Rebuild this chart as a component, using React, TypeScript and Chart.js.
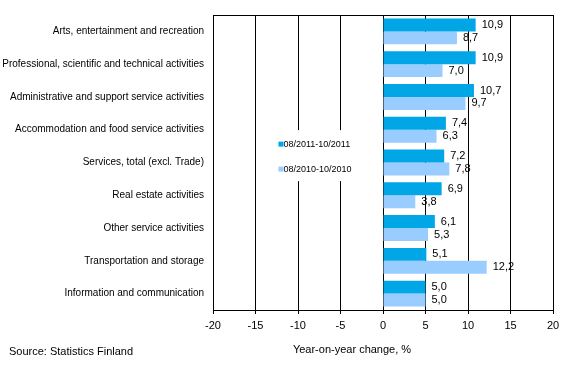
import React, { useEffect, useRef } from "react";
import { Chart, registerables } from "chart.js";

Chart.register(...registerables);

const categories = [
  "Arts, entertainment and recreation",
  "Professional, scientific and technical activities",
  "Administrative and support service activities",
  "Accommodation and food service activities",
  "Services, total (excl. Trade)",
  "Real estate activities",
  "Other service activities",
  "Transportation and storage",
  "Information and communication",
];
const series2011 = [10.9, 10.9, 10.7, 7.4, 7.2, 6.9, 6.1, 5.1, 5.0];
const series2010 = [8.7, 7.0, 9.7, 6.3, 7.8, 3.8, 5.3, 12.2, 5.0];
const seriesNames = ["08/2011-10/2011", "08/2010-10/2010"];
const seriesColors = ["#00A6E6", "#99CCFF"];
const xTicks = [-20, -15, -10, -5, 0, 5, 10, 15, 20];
const axisTitle = "Year-on-year change, %";
const sourceText = "Source: Statistics Finland";

const FONT = "'Liberation Sans', Arial, sans-serif";

const extrasPlugin = {
  id: "extras",
  beforeDatasetsDraw(chart: any) {
    const ctx = chart.ctx;
    const x = chart.scales.x;
    const y = chart.scales.y;
    const ca = chart.chartArea;
    ctx.save();
    // top frame line
    ctx.strokeStyle = "#000";
    ctx.lineWidth = 1;
    ctx.beginPath();
    ctx.moveTo(ca.left, Math.round(ca.top) + 0.5);
    ctx.lineTo(ca.right + 0.5, Math.round(ca.top) + 0.5);
    ctx.stroke();
    // legend box (white background interrupting grid)
    const lx = x.getPixelForValue(-12.3);
    const ly1 = (y.getPixelForValue(3) + y.getPixelForValue(4)) / 2 - 2;
    const ly2 = ly1 + 25;
    ctx.fillStyle = "#fff";
    ctx.fillRect(lx - 6, ly1 - 14, x.getPixelForValue(-0.3) - lx + 6, ly2 - ly1 + 26);
    ctx.font = `9px ${FONT}`;
    ctx.textBaseline = "middle";
    ctx.textAlign = "left";
    [ly1, ly2].forEach((ly, i) => {
      ctx.fillStyle = seriesColors[i];
      ctx.fillRect(lx, ly - 2.5, 5, 5);
      ctx.fillStyle = "#000";
      ctx.fillText(seriesNames[i], lx + 5, ly);
    });
    ctx.restore();
  },
  afterDraw(chart: any) {
    const ctx = chart.ctx;
    ctx.save();
    ctx.fillStyle = "#000";
    ctx.font = `11px ${FONT}`;
    ctx.textBaseline = "middle";
    // value labels
    ctx.textAlign = "left";
    chart.data.datasets.forEach((ds: any, di: number) => {
      const meta = chart.getDatasetMeta(di);
      meta.data.forEach((bar: any, i: number) => {
        const v = ds.data[i];
        ctx.fillText(v.toFixed(1).replace(".", ","), bar.x + 6, bar.y);
      });
    });
    // axis title
    ctx.textAlign = "center";
    ctx.fillText(axisTitle, 352, 350);
    // source
    ctx.textAlign = "left";
    ctx.fillText(sourceText, 9, 352);
    ctx.restore();
  },
};

export default function App() {
  const ref = useRef<HTMLCanvasElement>(null);
  useEffect(() => {
    const chart = new Chart(ref.current as HTMLCanvasElement, {
      type: "bar",
      data: {
        labels: categories,
        datasets: [
          {
            label: seriesNames[0],
            data: series2011,
            backgroundColor: seriesColors[0],
            categoryPercentage: 0.79,
            barPercentage: 1,
          },
          {
            label: seriesNames[1],
            data: series2010,
            backgroundColor: seriesColors[1],
            categoryPercentage: 0.79,
            barPercentage: 1,
          },
        ],
      },
      options: {
        indexAxis: "y",
        responsive: false,
        animation: false,
        layout: { padding: { left: 0, right: 16, top: 15, bottom: 0 } },
        plugins: {
          legend: { display: false },
          tooltip: { enabled: false },
        },
        scales: {
          x: {
            min: -20,
            max: 20,
            afterBuildTicks(scale: any) {
              scale.ticks = xTicks.map((v) => ({ value: v }));
            },
            afterFit(scale: any) {
              scale.height = 64;
            },
            grid: {
              color: "#000",
              lineWidth: 1,
              tickLength: 4,
              drawTicks: true,
            },
            border: { display: true, color: "#000" },
            ticks: {
              color: "#000",
              font: { family: FONT, size: 11 },
              padding: 5,
              maxRotation: 0,
            },
          },
          y: {
            afterFit(scale: any) {
              scale.width = 213;
            },
            grid: { display: false, drawTicks: false },
            border: { display: false },
            ticks: {
              color: "#000",
              font: { family: FONT, size: 10 },
              padding: 9,
              autoSkip: false,
            },
          },
        },
      },
      plugins: [extrasPlugin],
    } as any);
    return () => chart.destroy();
  }, []);
  return (
    <div style={{ position: "absolute", left: 0, top: 0, width: 569, height: 374, background: "#fff" }}>
      <canvas ref={ref} width={569} height={374} />
    </div>
  );
}
